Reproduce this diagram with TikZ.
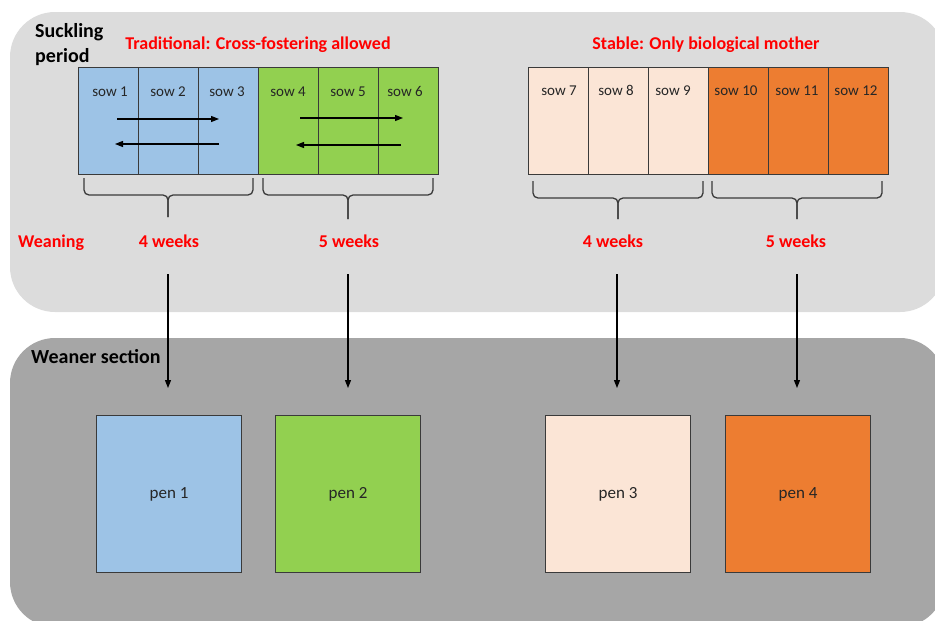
\documentclass[tikz,border=0pt]{standalone}
\usepackage{fontspec}
\setmainfont{Carlito}
\usetikzlibrary{arrows.meta}
\definecolor{bgtop}{HTML}{DCDCDC}
\definecolor{bgbot}{HTML}{A6A6A6}
\definecolor{cblue}{HTML}{9DC3E6}
\definecolor{cgreen}{HTML}{92D050}
\definecolor{cpeach}{HTML}{FBE5D6}
\definecolor{corange}{HTML}{ED7D31}
\definecolor{cred}{HTML}{FF0000}
\definecolor{edgecol}{HTML}{3A3A3A}
\definecolor{txt}{HTML}{262626}
\begin{document}
\begin{tikzpicture}[x=1pt,y=-1pt,
 cell/.style={draw=edgecol, line width=1.2pt, minimum width=60pt, minimum height=107pt, inner sep=0pt, anchor=north west},
 penbox/.style={draw=edgecol, line width=1.2pt, minimum width=145pt, minimum height=157pt, inner sep=0pt, anchor=north west, font=\fontsize{17}{20}\selectfont, text=txt},
 sowtext/.style={font=\fontsize{15}{18}\selectfont, text=txt, inner sep=0pt, anchor=base},
 redlab/.style={font=\bfseries\fontsize{18}{21}\selectfont, text=cred, inner sep=0pt, anchor=base},
 blacklab/.style={font=\bfseries\fontsize{20}{24}\selectfont, inner sep=0pt, align=left, text=black},
 flow/.style={line width=1.2pt, -{Triangle[length=8pt,width=6pt]}},
 bracestyle/.style={draw=edgecol, line width=1.3pt, rounded corners=5pt},
]
\useasboundingbox (0,0) rectangle (935,621);
\clip (0,0) rectangle (935,621);
% background regions
\fill[bgtop, rounded corners=45pt] (10,12) rectangle (945,312);
\fill[bgbot, rounded corners=45pt] (10,338) rectangle (945,627);

% titles
\node[blacklab, anchor=north west] (suck) at (35,23) {Suckling\\[1pt]period};
\node[blacklab, anchor=base west] (wean) at (31,363) {Weaner section};
\node[redlab] (trad) at (258,49) {Traditional: Cross-fostering allowed};
\node[redlab] (stab) at (706,49) {Stable: Only biological mother};
\node[redlab, anchor=base west] (weaning) at (18,247) {Weaning};
\node[redlab] (w1) at (169,247) {4 weeks};
\node[redlab] (w2) at (349,247) {5 weeks};
\node[redlab] (w3) at (613,247) {4 weeks};
\node[redlab] (w4) at (796,247) {5 weeks};

% sow cells
\node[cell, fill=cblue] (s1) at (78,67) {};
\node[cell, fill=cblue] (s2) at (138,67) {};
\node[cell, fill=cblue] (s3) at (198,67) {};
\node[cell, fill=cgreen] (s4) at (258,67) {};
\node[cell, fill=cgreen] (s5) at (318,67) {};
\node[cell, fill=cgreen] (s6) at (378,67) {};
\node[cell, fill=cpeach] (s7) at (528,67) {};
\node[cell, fill=cpeach] (s8) at (588,67) {};
\node[cell, fill=cpeach] (s9) at (648,67) {};
\node[cell, fill=corange] (s10) at (708,67) {};
\node[cell, fill=corange] (s11) at (768,67) {};
\node[cell, fill=corange] (s12) at (828,67) {};

\node[sowtext] (t1) at (110,96) {sow 1};
\node[sowtext] (t2) at (168,96) {sow 2};
\node[sowtext] (t3) at (227,96) {sow 3};
\node[sowtext] (t4) at (288,96) {sow 4};
\node[sowtext] (t5) at (348,96) {sow 5};
\node[sowtext] (t6) at (405,96) {sow 6};
\node[sowtext] (t7) at (559,95) {sow 7};
\node[sowtext] (t8) at (616,95) {sow 8};
\node[sowtext] (t9) at (673,95) {sow 9};
\node[sowtext] (t10) at (736,95) {sow 10};
\node[sowtext] (t11) at (797,95) {sow 11};
\node[sowtext] (t12) at (856,95) {sow 12};

% cross-fostering arrows
\coordinate (a1s) at (117,119); \coordinate (a1e) at (219,119);
\coordinate (a2s) at (219,144); \coordinate (a2e) at (115,144);
\coordinate (a3s) at (300,118); \coordinate (a3e) at (403,118);
\coordinate (a4s) at (401,145); \coordinate (a4e) at (296,145);
\draw[flow] (a1s) -- (a1e);
\draw[flow] (a2s) -- (a2e);
\draw[flow] (a3s) -- (a3e);
\draw[flow] (a4s) -- (a4e);

% braces
\coordinate (b1l) at (84,178);  \coordinate (b1r) at (253,178); \coordinate (b1m) at (168,195); \coordinate (b1t) at (168,217);
\coordinate (b2l) at (263,178); \coordinate (b2r) at (433,178); \coordinate (b2m) at (348,195); \coordinate (b2t) at (348,219);
\coordinate (b3l) at (533,181); \coordinate (b3r) at (703,181); \coordinate (b3m) at (618,198); \coordinate (b3t) at (618,219);
\coordinate (b4l) at (712,181); \coordinate (b4r) at (882,181); \coordinate (b4m) at (797,198); \coordinate (b4t) at (797,219);
\foreach \b in {b1,b2,b3,b4}{
  \draw[bracestyle] (\b l) |- (\b m) -- (\b t);
  \draw[bracestyle] (\b r) |- (\b m) -- (\b t);
}

% pens
\node[penbox, fill=cblue] (p1) at (96,415) {pen 1};
\node[penbox, fill=cgreen] (p2) at (275,415) {pen 2};
\node[penbox, fill=cpeach] (p3) at (545,415) {pen 3};
\node[penbox, fill=corange] (p4) at (725,415) {pen 4};

% weaning arrows
\coordinate (d1s) at (168,274); \coordinate (d1e) at (168,388);
\coordinate (d2s) at (348,274); \coordinate (d2e) at (348,388);
\coordinate (d3s) at (617,274); \coordinate (d3e) at (617,388);
\coordinate (d4s) at (797,274); \coordinate (d4e) at (797,388);
\draw[flow] (d1s) -- (d1e);
\draw[flow] (d2s) -- (d2e);
\draw[flow] (d3s) -- (d3e);
\draw[flow] (d4s) -- (d4e);
\end{tikzpicture}
\end{document}
